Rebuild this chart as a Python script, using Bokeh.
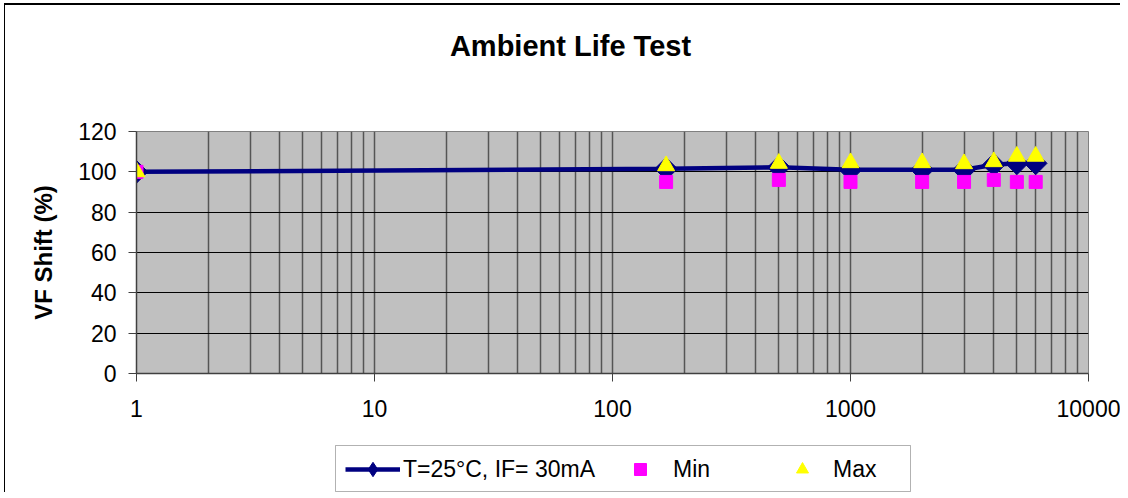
import math
from bokeh.plotting import figure
from bokeh.layouts import column
from bokeh.models import (Range1d, FixedTicker, Legend, LegendItem, Label,
                          BoxAnnotation, BasicTickFormatter)
from bokeh.embed import file_html
from bokeh.resources import INLINE

# ---- data ----
hours = [1, 168, 500, 1000, 2000, 3000, 4000, 5000, 6000]
vf_shift = [100, 101.5, 102.3, 101, 101, 101, 103.5, 104.2, 104.2]
vf_min = [100, 95, 96, 95, 95, 95, 96, 95, 95]
vf_max = [100, 103, 104.2, 104.5, 104.5, 104, 105, 107.7, 107.7]
x_ticks = [1, 10, 100, 1000, 10000]
y_ticks = [0, 20, 40, 60, 80, 100, 120]
series_label = "T=25°C, IF= 30mA"
min_label = "Min"
max_label = "Max"
title_text = "Ambient Life Test"
y_label = "VF Shift (%)"

FONT = "Liberation Sans"
NAVY = "#000080"
MAGENTA = "#FF00FF"
YELLOW = "#FFFF00"
W = 1120
LEFT, RIGHT = 136, 32          # frame borders shared by all strips


def blank_fig(h):
    f = figure(width=W, height=h, x_range=Range1d(LEFT, W - RIGHT), y_range=Range1d(0, h),
               x_axis_type=None, y_axis_type=None, output_backend="svg",
               toolbar_location=None, min_border_left=LEFT, min_border_right=RIGHT,
               min_border_top=0, min_border_bottom=0)
    f.outline_line_color = None
    f.border_fill_color = None
    f.background_fill_color = None
    f.xgrid.visible = False
    f.ygrid.visible = False
    return f


# ---- title strip ----
tf = blank_fig(100)
tf.add_layout(Label(x=570, y=55, text=title_text, text_font=FONT,
                    text_font_style="bold", text_font_size="29px",
                    text_align="center", text_baseline="middle",
                    text_color="black"))

# ---- main chart ----
p = figure(width=W, height=335, x_axis_type="log",
           x_range=Range1d(1, 10000), y_range=Range1d(0, 120),
           output_backend="svg", toolbar_location=None,
           min_border_left=LEFT, min_border_right=RIGHT,
           min_border_top=31, min_border_bottom=62)
p.background_fill_color = "#C0C0C0"
p.border_fill_color = None
p.outline_line_color = "#808080"
p.outline_line_width = 1

p.xaxis.ticker = FixedTicker(ticks=x_ticks,
                             minor_ticks=[m * 10 ** d for d in range(4) for m in range(2, 10)])
p.xaxis.formatter = BasicTickFormatter(use_scientific=False)
p.yaxis.ticker = FixedTicker(ticks=y_ticks)
for ax in (p.xaxis, p.yaxis):
    ax.major_label_text_font = FONT
    ax.major_label_text_font_size = "23px"
    ax.major_label_text_color = "black"
    ax.axis_line_color = "#404040"
    ax.axis_line_width = 1.5
    ax.major_tick_line_color = "#404040"
    ax.major_tick_out = 8
    ax.major_tick_in = 0
    ax.minor_tick_line_color = None
p.xaxis.major_label_standoff = 18
p.yaxis.major_label_standoff = 12
p.yaxis.axis_label = y_label
p.yaxis.axis_label_text_font = FONT
p.yaxis.axis_label_text_font_style = "bold"
p.yaxis.axis_label_text_font_size = "24px"
p.yaxis.axis_label_text_color = "black"
p.yaxis.axis_label_standoff = 18

p.xgrid.grid_line_color = "#555555"
p.xgrid.grid_line_width = 1.5
p.xgrid.minor_grid_line_color = "#555555"
p.xgrid.minor_grid_line_width = 1.5
p.ygrid.grid_line_color = "black"
p.ygrid.grid_line_width = 1

p.line(hours, vf_shift, line_color=NAVY, line_width=4.5)
p.scatter(hours, vf_shift, marker="square", angle=math.pi / 4, size=16,
          fill_color=NAVY, line_color=NAVY)
p.scatter(hours, vf_min, marker="square", size=13,
          fill_color=MAGENTA, line_color=MAGENTA)
p.scatter(hours, vf_max, marker="triangle", size=17,
          fill_color=YELLOW, line_color=YELLOW)

# ---- legend strip ----
LH = 57
lf = blank_fig(LH)
nan = [float("nan")]
l_ln = lf.line(nan, nan, line_color=NAVY, line_width=4.5)
l_dm = lf.scatter(nan, nan, marker="diamond", size=14,
                  fill_color=NAVY, line_color=NAVY)
l_mn = lf.scatter(nan, nan, marker="square", size=12,
                  fill_color=MAGENTA, line_color=MAGENTA)
l_mx = lf.scatter(nan, nan, marker="triangle", size=12,
                  fill_color=YELLOW, line_color=YELLOW)

lf.add_layout(BoxAnnotation(left=335, right=910, top=LH - 10, bottom=1,
                            fill_color=None, fill_alpha=0,
                            line_color="black", line_width=1))


def add_legend(items, loc, gw, gh, standoff):
    lg = Legend(items=items, location=loc, orientation="horizontal",
                label_text_font=FONT, label_text_font_size="23px",
                label_text_color="black",
                glyph_width=gw, glyph_height=gh, label_standoff=standoff,
                padding=0, margin=0, spacing=0,
                border_line_color=None, background_fill_alpha=0)
    lf.add_layout(lg)


add_legend([LegendItem(label=series_label, renderers=[l_ln, l_dm])], (345 - LEFT, 5), 55, 36, 3)
add_legend([LegendItem(label=min_label, renderers=[l_mn])], (625 - LEFT, 8), 30, 30, 18)
add_legend([LegendItem(label=max_label, renderers=[l_mx])], (787 - LEFT, 8), 30, 30, 16)

layout = column(tf, p, lf, spacing=0, styles={
    "background-color": "white",
    "background-image": (
        "linear-gradient(to right, transparent 4px, #000 4px, #000 5.5px, transparent 5.5px), "
        "linear-gradient(to bottom, transparent 3px, #000 3px, #000 4.5px, transparent 4.5px)"),
    "background-size": "100% 100%, 100% 100%",
    "background-position": "0px 3px, 4px 0px",
    "background-repeat": "no-repeat, no-repeat",
})

open("out.html", "w").write(file_html(layout, INLINE))
